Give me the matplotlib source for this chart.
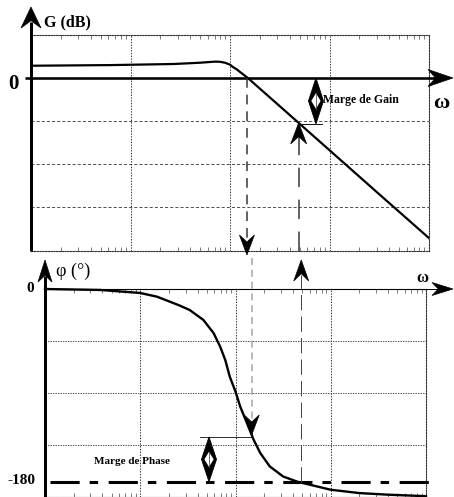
import numpy as np
import matplotlib
matplotlib.use('Agg')
import matplotlib.pyplot as plt
from matplotlib.patches import Polygon
from matplotlib.ticker import LogLocator, NullFormatter, FixedLocator

# ---------------- data ----------------
omega_gain = [1, 6.3, 27, 50, 63, 71, 79, 89, 100, 107, 117, 126, 138, 151, 316, 1000, 3162, 10000]
gain_db = [5.7, 6.0, 6.5, 7.1, 7.45, 7.6, 7.55, 7.1, 6.2, 5.1, 4.0, 2.8, 1.4, 0.0, -13.1, -33.6,
           -54.1, -74.5]

omega_phase = [1, 3.8, 10, 15, 20.4, 26, 33, 46, 59, 69, 78, 87, 100, 112, 132, 155, 182, 229, 316,
               447, 1000, 2000, 3981, 10000]
phase_deg = [0, -0.9, -3.7, -7.2, -11.8, -15.5, -19.6, -28.9, -41.3, -53.8, -66.2, -81.8, -95.8,
             -109.8, -125.3, -140.8, -153.2, -165.7, -175.1, -180.0, -187.5, -190.6, -192.1, -193.5]

gain_grid = [-20, -40, -60]
phase_grid = [-48.5, -97, -145.5]
decades = [10, 100, 1000]

w_c = 148        # gain crossover frequency
w_180 = 490      # phase crossover frequency
w_gm_arrow = 731  # where the gain-margin arrow is drawn
w_pm_arrow = 52.7  # where the phase-margin arrow is drawn

# ---------------- figure ----------------
plt.rcParams['lines.scale_dashes'] = False
plt.rcParams['font.family'] = ['Liberation Serif', 'DejaVu Serif']

W, H = 454, 497
fig = plt.figure(figsize=(W / 100, H / 100), dpi=100)


def axrect(l, t, r, b):
    return [l / W, 1 - b / H, (r - l) / W, (b - t) / H]


ax1 = fig.add_axes(axrect(31, 35, 429, 251))
ax2 = fig.add_axes(axrect(45, 289, 426, 496.5))

for ax in (ax1, ax2):
    ax.set_xscale('log')
    ax.set_xlim(1, 1e4)
    ax.xaxis.set_major_locator(FixedLocator(decades))
    ax.xaxis.set_major_formatter(NullFormatter())
    ax.xaxis.set_minor_locator(LogLocator(base=10, subs=np.arange(2, 10), numticks=30))
    ax.xaxis.set_minor_formatter(NullFormatter())
    ax.tick_params(which='minor', axis='x', direction='in', top=True, bottom=True,
                   length=3, width=0.6, color='#666')
    ax.tick_params(which='major', length=0, labelbottom=False, labelleft=False,
                   left=False, bottom=False, top=False)
    ax.spines['left'].set_visible(False)
    for s in ('top', 'right', 'bottom'):
        ax.spines[s].set_linestyle((0, (1, 1)))
        ax.spines[s].set_linewidth(0.8)
        ax.spines[s].set_color('#333')
    ax.set_facecolor('none')

ax1.set_ylim(-80.5, 20)
ax1.set_yticks(gain_grid)
ax1.grid(True, axis='x', which='major', ls=(0, (1, 1)), lw=0.7, color='#333')
ax1.grid(True, axis='y', ls=(0, (2.2, 1.5)), lw=0.6, color='#333')

ax2.set_ylim(-193.8, 0)
ax2.set_yticks(phase_grid)
ax2.grid(True, axis='x', which='major', ls=(0, (1, 1)), lw=0.7, color='#333')
ax2.grid(True, axis='y', ls=(0, (1, 0.8)), lw=0.6, color='#333')
ax2.spines['top'].set_linestyle('-')
ax2.spines['top'].set_color('k')
ax2.spines['top'].set_linewidth(0.8)

ax1.plot(omega_gain, gain_db, color='k', lw=1.6, solid_joinstyle='round', zorder=5)
ax2.plot(omega_phase, phase_deg, color='k', lw=1.7, solid_joinstyle='round', clip_on=False,
         zorder=5)

# -180 dash-dot line
ax2.plot([1.13, 1.1e4], [-180, -180], color='k', lw=2.2, dashes=(21, 7.2, 6.1, 7.6),
         dash_capstyle='butt', clip_on=False, zorder=4)

# ---------------- overlay for axes arrows & annotations ----------------
ov = fig.add_axes([0, 0, 1, 1], zorder=10)
ov.set_xlim(0, W)
ov.set_ylim(0, H)
ov.axis('off')
ov.patch.set_alpha(0)

fig.canvas.draw()
bb1 = ax1.get_window_extent()
bb2 = ax2.get_window_extent()


def P(ax, x, y):
    return ax.transData.transform((x, y))


def head(tip, d, L, Wd, notch=0.3, color='k'):
    tip = np.array(tip, float)
    d = np.array(d, float)
    d /= np.linalg.norm(d)
    p = np.array([-d[1], d[0]])
    back = tip - L * d
    verts = [tip, back + p * Wd / 2, tip - (1 - notch) * L * d, back - p * Wd / 2]
    ov.add_patch(Polygon(verts, closed=True, fc=color, ec=color, lw=0.5, zorder=12))


def double_arrow(x, y_top, y_bot, hw=7):
    mid = (y_top + y_bot) / 2
    h = y_top - y_bot
    ov.add_patch(Polygon([(x, y_top), (x + hw, mid), (x, y_bot), (x - hw, mid)],
                         closed=True, fc='k', ec='k', lw=0.6, zorder=12))
    ov.add_patch(Polygon([(x, mid + 0.17 * h), (x + hw * 0.62, mid), (x, mid - 0.17 * h),
                          (x - hw * 0.62, mid)], closed=True, fc='white', ec='none', zorder=13))
    ov.plot([x, x], [mid + 0.17 * h, mid - 0.17 * h], color='#555', lw=0.6, zorder=14)


pt = 0.72  # px -> points at 100 dpi

# top panel axes
y0 = P(ax1, 1, 0)[1]
ov.plot([bb1.x0, bb1.x0], [bb1.y0, H - 22], color='k', lw=3 * pt, solid_capstyle='butt')
head((bb1.x0, H - 7), (0, 1), 21, 20, notch=0.35)
ov.plot([bb1.x0 - 6, W - 15], [y0, y0], color='k', lw=2.6 * pt, solid_capstyle='butt')
head((W - 1, y0), (1, 0), 25, 17, notch=0.3)

# bottom panel axes
ov.plot([bb2.x0, bb2.x0], [0, H - 276], color='k', lw=3 * pt, solid_capstyle='butt')
head((bb2.x0, H - 260), (0, 1), 22, 14, notch=0.3)
ov.plot([bb2.x0, W - 15], [bb2.y1, bb2.y1], color='k', lw=1.0 * pt)
head((W - 1, bb2.y1), (1, 0), 21, 13, notch=0.3)

# values at crossover frequencies
lw_g = np.log10(omega_gain)
lw_p = np.log10(omega_phase)
g180 = np.interp(np.log10(w_180), lw_g, gain_db)
ph_c = np.interp(np.log10(w_c), lw_p, phase_deg)

# gain crossover: down arrow in top panel
xc1, yc1 = P(ax1, w_c, 0)
ov.plot([xc1, xc1], [yc1, bb1.y0 + 8], color='#333', lw=1.5 * pt, dashes=(7, 5))
head((xc1, bb1.y0 - 4), (0, -1), 20, 15, notch=0.35)
# continues in bottom panel (gray)
xc2, yc2 = P(ax2, w_c, ph_c)
ov.plot([xc2, xc2], [bb1.y0 - 7, yc2 + 12], color='#aaa', lw=1.6 * pt, dashes=(5, 3.5))
head((xc2, yc2), (0, -1), 20, 15, notch=0.35)

# phase crossover: up arrow in bottom panel
xp2, yp2 = P(ax2, w_180, -180)
ov.plot([xp2, xp2], [yp2, H - 275], color='#444', lw=1.0 * pt, dashes=(11, 4.5))
head((xp2, H - 260), (0, 1), 21, 15, notch=0.35)
# up arrow to the gain curve in the top panel
xp1, yp1 = P(ax1, w_180, g180)
ov.plot([xp1, xp1], [bb1.y0, yp1 - 12], color='#333', lw=1.5 * pt, dashes=(14, 9))
head((xp1, yp1), (0, 1), 21, 16, notch=0.35)

# gain margin
xg, _ = P(ax1, w_gm_arrow, 0)
ov.plot([xp1, xg + 6], [yp1 - 1, yp1 - 1], color='k', lw=0.9 * pt)
double_arrow(xg, y0, yp1 - 1, hw=7.5)
ov.text(xg + 7, H - 100.5, 'Marge de Gain', fontsize=8.5, fontweight='bold', ha='left',
        va='center')

# phase margin
xpm, y180 = P(ax2, w_pm_arrow, -180)
ov.plot([xpm - 9, xc2], [yc2 - 2, yc2 - 2], color='k', lw=0.8 * pt)
double_arrow(xpm, yc2 - 2, y180, hw=7.5)
ov.text(132, H - 461.5, 'Marge de Phase', fontsize=8, fontweight='bold', ha='center',
        va='center')

# labels
ov.text(67, H - 22.5, 'G (dB)', fontsize=11.5, fontweight='bold', ha='center', va='center')
ov.text(13, H - 84, '0', fontsize=15, fontweight='bold', ha='center', va='center')
ov.text(441, H - 103, 'ω', fontsize=16, fontweight='bold', ha='center', va='center')
ov.text(73, H - 271, 'φ (°)', fontsize=13, ha='center', va='center')
ov.text(30, H - 288, '0', fontsize=11, fontweight='bold', ha='center', va='center')
ov.text(21, H - 481, '-180', fontsize=11, fontweight='bold', ha='center', va='center')
ov.text(422, H - 278, 'ω', fontsize=12, fontweight='bold', ha='center', va='center')

fig.savefig('out.png', dpi=100)
